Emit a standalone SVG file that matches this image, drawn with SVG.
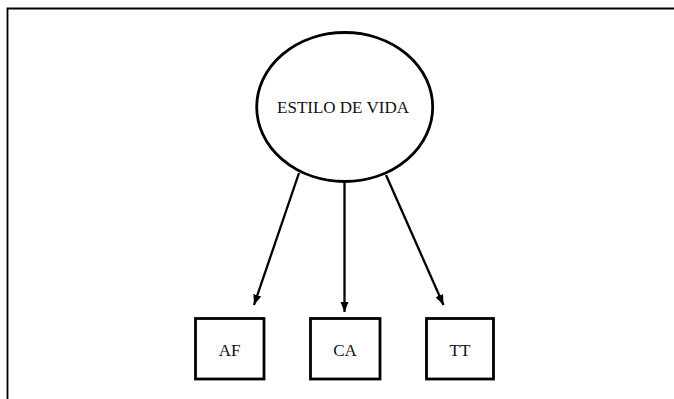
<svg xmlns="http://www.w3.org/2000/svg" width="674" height="399" viewBox="0 0 674 399">
<defs>
<marker id="ah" viewBox="0 0 10 8" refX="10" refY="4" markerWidth="4.5" markerHeight="3.6" markerUnits="strokeWidth" orient="auto">
<path d="M0,0 L10,4 L0,8 z" fill="#000"/>
</marker>
<style>
.lbl{font-family:"Liberation Serif","Times New Roman",serif;font-size:17px;fill:#111;text-anchor:middle}
.shape{fill:#fff;stroke:#000;stroke-width:2.8}
.conn{stroke:#000;stroke-width:2.3;fill:none;marker-end:url(#ah)}
</style>
</defs>
<rect width="674" height="399" fill="#fff"/>
<path d="M7.5,399 V8.5 H674" fill="none" stroke="#000" stroke-width="1.8"/>
<g id="connectors">
<line class="conn" x1="299" y1="173" x2="254" y2="305"/>
<line class="conn" x1="344.5" y1="182" x2="344.5" y2="312"/>
<line class="conn" x1="386" y1="175" x2="443.5" y2="305"/>
</g>
<g id="estilo">
<ellipse class="shape" cx="344.7" cy="107" rx="88" ry="74.5"/>
<text class="lbl" x="343" y="112.5">ESTILO DE VIDA</text>
</g>
<g id="af">
<rect class="shape" x="195.5" y="318.5" width="68.5" height="60.5"/>
<text class="lbl" x="229.7" y="355.5">AF</text>
</g>
<g id="ca">
<rect class="shape" x="310.5" y="318.5" width="69.5" height="60.5"/>
<text class="lbl" x="345" y="355.5">CA</text>
</g>
<g id="tt">
<rect class="shape" x="426.5" y="318.5" width="67" height="60.5"/>
<text class="lbl" x="460" y="355.5">TT</text>
</g>
</svg>
